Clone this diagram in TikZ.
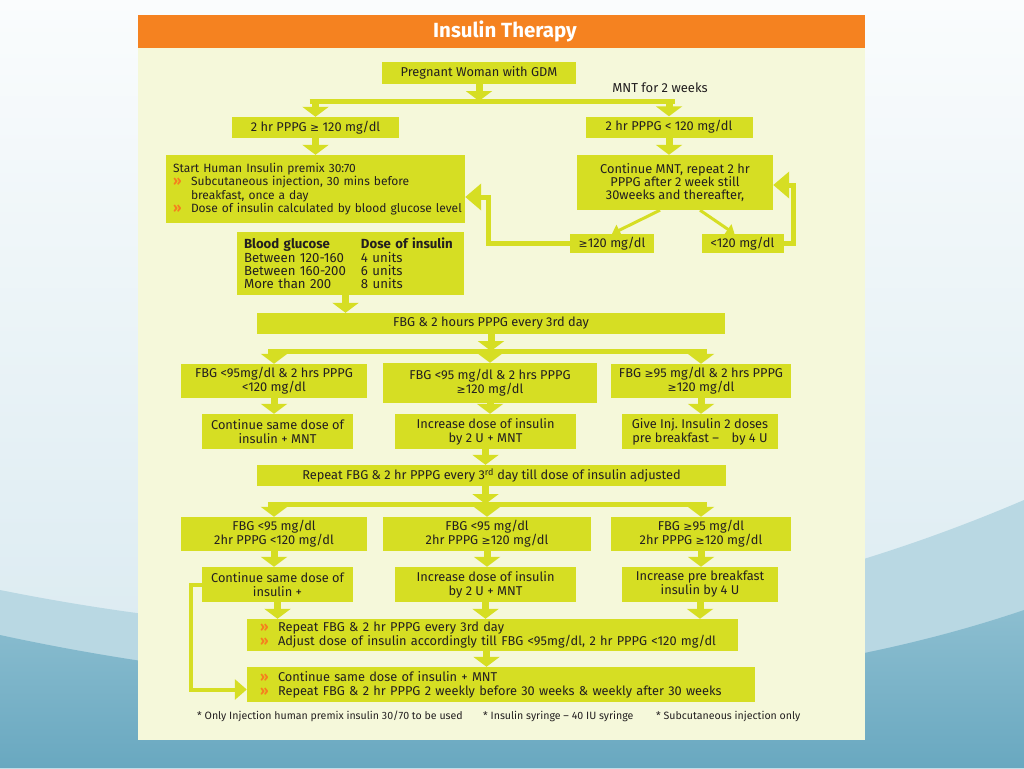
\documentclass[tikz,border=0pt]{standalone}
\usepackage{fontspec}
\setmainfont{Fira Sans}
\newfontfamily\symf{DejaVu Sans}[Scale=0.85]
\usetikzlibrary{arrows.meta,calc}
\definecolor{lime}{RGB}{214,222,35}
\definecolor{panel}{RGB}{245,248,218}
\definecolor{hdr}{RGB}{245,130,32}
\definecolor{bulor}{RGB}{245,128,30}
\definecolor{ink}{RGB}{35,31,32}
\definecolor{skyA}{RGB}{250,252,253}
\definecolor{skyB}{RGB}{214,232,239}
\definecolor{waveA}{RGB}{185,216,227}
\definecolor{waveB}{RGB}{140,190,208}
\definecolor{waveC}{RGB}{105,168,192}
\newcommand\GE{{\symf ≥}}
\newcommand\bul{{\color{bulor}\fontsize{13.5}{13}\selectfont\bfseries »}}
\tikzset{
  gbox/.style={fill=lime, inner sep=0pt, align=center, text=ink,
    font=\fontsize{12.8}{14}\selectfont},
  flow/.style={draw=lime, line width=7pt, -{Triangle[width=26pt,length=10pt]}},
  distbar/.style={draw=lime, line width=5pt, shorten <=-6pt, shorten >=-6pt},
  diag/.style={draw=lime, line width=3pt, -{Triangle[width=12pt,length=8pt]}},
  loopline/.style={draw=lime, line width=5pt, line join=miter, -{Triangle[width=26pt,length=16pt]}},
  note/.style={text=ink, inner sep=0pt, anchor=west, font=\fontsize{10.6}{12}\selectfont},
}
\begin{document}
\begin{tikzpicture}[x=1pt,y=-1pt]
\useasboundingbox (0,0) rectangle (1024,768);
% slide background
\shade[top color=skyA, bottom color=skyB] (0,0) rectangle (1024,768);
\fill[waveA] (0,590) .. controls (300,650) and (650,660) .. (1024,500) -- (1024,768) -- (0,768) -- cycle;
\shade[top color=waveB, bottom color=waveC] (0,635) .. controls (300,700) and (700,720) .. (1024,610) -- (1024,768) -- (0,768) -- cycle;
% panel
\fill[panel] (138,15) rectangle (865,740);
\fill[hdr] (138,15) rectangle (865,48);
\node[text=white, font=\bfseries\fontsize{20.5}{22}\selectfont] (title) at (505,31.5) {Insulin Therapy};

% nodes
\node[gbox, minimum width=194pt, minimum height=22pt] (n1) at (479,73) {Pregnant Woman with GDM};
\node[text=ink, inner sep=0pt, font=\fontsize{13}{14}\selectfont] (mnt) at (660,88) {MNT for 2 weeks};
\node[gbox, minimum width=167pt, minimum height=21pt] (n2) at (315.5,127.5) {2 hr PPPG \GE{} 120 mg/dl};
\node[gbox, minimum width=167pt, minimum height=21pt] (n3) at (669,127) {2 hr PPPG < 120 mg/dl};
\node[gbox, minimum height=68pt, text width=285pt, inner xsep=7pt, align=left, font=\fontsize{12}{13.4}\selectfont] (n4) at (315.5,189)
  {\mbox{Start Human Insulin premix 30:70}\\
   \mbox{\makebox[18pt][l]{\bul}Subcutaneous injection, 30 mins before}\\
   \mbox{\hspace*{18pt}breakfast, once a day}\\
   \mbox{\makebox[18pt][l]{\bul}Dose of insulin calculated by blood glucose level}};
\node[gbox, minimum height=63pt, text width=213pt, inner xsep=7pt, align=left, font=\fontsize{13.2}{13.4}\selectfont] (n5) at (350.5,263.5)
  {\makebox[117pt][l]{\bfseries Blood glucose}\textbf{Dose of insulin}\\
   \makebox[117pt][l]{Between 120-160}4 units\\
   \makebox[117pt][l]{Between 160-200}6 units\\
   \makebox[117pt][l]{More than 200}8 units};
\node[gbox, minimum width=196pt, minimum height=55pt, font=\fontsize{12.8}{13.3}\selectfont] (n6) at (675,182.5)
  {Continue MNT, repeat 2 hr\\PPPG after 2 week still\\30weeks and thereafter,};
\node[gbox, minimum width=84pt, minimum height=19pt] (n7) at (612,243.5) {\GE120 mg/dl};
\node[gbox, minimum width=82pt, minimum height=19pt] (n8) at (742.5,243.5) {<120 mg/dl};

\node[gbox, minimum width=468pt, minimum height=21pt] (n9) at (491,323.5) {FBG \& 2 hours PPPG every 3rd day};

\node[gbox, minimum width=186pt, minimum height=34pt] (n10a) at (274,381) {FBG <95mg/dl \& 2 hrs PPPG\\<120 mg/dl};
\node[gbox, minimum width=214pt, minimum height=40pt] (n10b) at (490,383) {FBG <95 mg/dl \& 2 hrs PPPG\\\GE120 mg/dl};
\node[gbox, minimum width=180pt, minimum height=34pt] (n10c) at (701,381) {FBG \GE95 mg/dl \& 2 hrs PPPG\\\GE120 mg/dl};

\node[gbox, minimum width=151pt, minimum height=35pt] (n11a) at (277.5,431.5) {Continue same dose of\\insulin + MNT};
\node[gbox, minimum width=181pt, minimum height=35pt] (n11b) at (485.5,431.5) {Increase dose of insulin\\by 2 U + MNT};
\node[gbox, minimum width=156pt, minimum height=35pt] (n11c) at (700,431.5) {Give Inj.\ Insulin 2 doses\\pre breakfast –\quad by 4 U};

\node[gbox, minimum width=469pt, minimum height=21pt] (n12) at (491.5,475.5) {Repeat FBG \& 2 hr PPPG every 3\textsuperscript{rd} day till dose of insulin adjusted};

\node[gbox, minimum width=186pt, minimum height=34pt] (n13a) at (274,534) {FBG <95 mg/dl\\2hr PPPG <120 mg/dl};
\node[gbox, minimum width=208pt, minimum height=34pt] (n13b) at (487,534) {FBG <95 mg/dl\\2hr PPPG \GE120 mg/dl};
\node[gbox, minimum width=180pt, minimum height=34pt] (n13c) at (701,534) {FBG \GE95 mg/dl\\2hr PPPG \GE120 mg/dl};

\node[gbox, minimum width=151pt, minimum height=35pt] (n14a) at (277.5,584.5) {Continue same dose of\\insulin +};
\node[gbox, minimum width=181pt, minimum height=35pt] (n14b) at (485.5,584.5) {Increase dose of insulin\\by 2 U + MNT};
\node[gbox, minimum width=156pt, minimum height=35pt] (n14c) at (700,584.5) {Increase pre breakfast\\insulin by 4 U};

\node[gbox, minimum height=32pt, text width=479pt, inner xsep=6pt, align=left] (n15) at (492.5,635)
  {\hspace*{7pt}\makebox[18pt][l]{\bul}Repeat FBG \& 2 hr PPPG every 3rd day\\
   \hspace*{7pt}\makebox[18pt][l]{\bul}Adjust dose of insulin accordingly till FBG <95mg/dl, 2 hr PPPG <120 mg/dl};
\node[gbox, minimum height=35pt, text width=496pt, inner xsep=6pt, align=left] (n16) at (501,684.5)
  {\hspace*{7pt}\makebox[18pt][l]{\bul}Continue same dose of insulin + MNT\\
   \hspace*{7pt}\makebox[18pt][l]{\bul}Repeat FBG \& 2 hr PPPG 2 weekly before 30 weeks \& weekly after 30 weeks};

\node[note] (f1) at (197,716) {* Only Injection human premix insulin 30/70 to be used};
\node[note] (f2) at (483,716) {* Insulin syringe – 40 IU syringe};
\node[note] (f3) at (656,716) {* Subcutaneous injection only};

% connectors: top
\coordinate (b1L) at (315.5,101);
\coordinate (b1R) at (669,101);
\draw[distbar] (b1L) -- (b1R);
\draw[flow] (n1.south) -- (n1.south |- b1L);
\draw[flow] (b1L) -- (n2.north);
\draw[flow] (b1R) -- (n3.north);
\draw[flow] (n2.south) -- (n4.north);
\draw[flow] (n3.south) -- (n3.south |- n6.north);
\draw[diag] ([xshift=-15pt]n6.south) -- (n7.north);
\draw[diag] ([xshift=25pt]n6.south) -- ([xshift=-8pt]n8.north);
\coordinate (l1) at (488,197);
\draw[loopline] (n7.west) -| (l1) -- (l1 -| n4.east);
\coordinate (l2) at (793,185);
\draw[loopline] (n8.east) -| (l2) -- (l2 -| n6.east);
\draw[flow] ([xshift=-5pt]n5.south) -- ([xshift=-5pt]n5.south |- n9.north);

% middle
\coordinate (b2L) at (274,351);
\coordinate (b2R) at (701,351);
\draw[distbar] (b2L) -- (b2R);
\draw[flow] (n9.south) -- (n9.south |- b2L);
\draw[flow] (b2L) -- (n10a.north);
\draw[flow] (n10b.north |- b2L) -- (n10b.north);
\draw[flow] (b2R) -- (n10c.north);
\draw[flow] (n10a.south) -- (n10a.south |- n11a.north);
\draw[flow] (n10b.south) -- (n10b.south |- n11b.north);
\draw[flow] (n10c.south) -- (n10c.south |- n11c.north);
\draw[flow] (n11b.south) -- (n11b.south |- n12.north);

% lower
\coordinate (b3L) at (274,504);
\coordinate (b3R) at (701,504);
\draw[distbar] (b3L) -- (b3R);
\draw[flow] (n11b.south |- n12.south) -- (n11b.south |- b3L);
\draw[flow] (b3L) -- (n13a.north);
\draw[flow] (n13b.north |- b3L) -- (n13b.north);
\draw[flow] (b3R) -- (n13c.north);
\draw[flow] (n13a.south) -- (n13a.south |- n14a.north);
\draw[flow] (n13b.south) -- (n13b.south |- n14b.north);
\draw[flow] (n13c.south) -- (n13c.south |- n14c.north);
\draw[flow] (n14a.south) -- (n14a.south |- n15.north);
\draw[flow] (n14b.south) -- (n14b.south |- n15.north);
\draw[flow] (n14c.south) -- (n14c.south |- n15.north);
\draw[flow] ([xshift=-6pt]n15.south) -- ([xshift=-6pt]n15.south |- n16.north);
\draw[loopline, line width=4pt, -{Triangle[width=20pt,length=12pt]}] (n14a.west) -- ++(-10.5,0) |- ($(n16.west)+(0,5)$);
\end{tikzpicture}
\end{document}
